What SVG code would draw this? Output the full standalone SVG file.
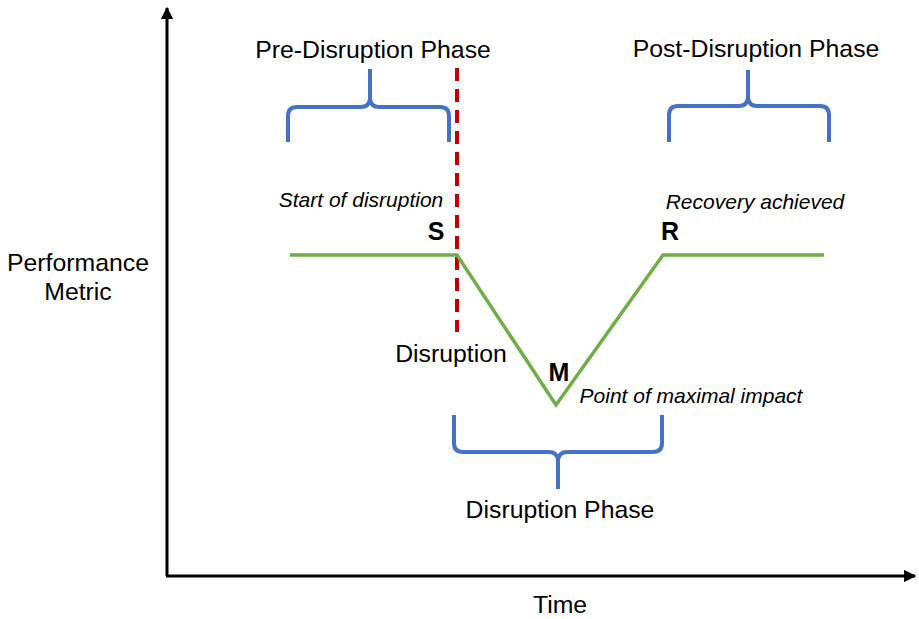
<svg xmlns="http://www.w3.org/2000/svg" width="919" height="619" viewBox="0 0 919 619">
  <style>
    .lbl { font-family: "Liberation Sans", Arial, sans-serif; font-size: 24.8px; fill: #000; text-anchor: middle; }
    .note { font-family: "Liberation Sans", Arial, sans-serif; font-size: 21px; font-style: italic; fill: #000; text-anchor: middle; }
    .pt { font-family: "Liberation Sans", Arial, sans-serif; font-size: 25px; font-weight: bold; fill: #000; text-anchor: middle; }
    .brace { fill: none; stroke: #4472C4; stroke-width: 4; stroke-linecap: butt; }
    .axis { fill: none; stroke: #000; stroke-width: 3; }
  </style>
  <defs>
    <marker id="arrow" viewBox="0 0 10 10" refX="9" refY="5" markerWidth="4.2" markerHeight="4.2" orient="auto" markerUnits="strokeWidth">
      <path d="M0,0 L10,5 L0,10 Z" fill="#000"/>
    </marker>
  </defs>
  <rect width="919" height="619" fill="#fff"/>

  <!-- axes -->
  <g id="axes">
    <path class="axis" d="M167,576 V8" marker-end="url(#arrow)"/>
    <path class="axis" d="M166,576 H915" marker-end="url(#arrow)"/>
    <text class="lbl" x="78" y="271">Performance</text>
    <text class="lbl" x="78" y="300">Metric</text>
    <text class="lbl" x="560" y="613">Time</text>
  </g>

  <!-- connectors: performance curve and disruption marker -->
  <g id="connectors">
    <line id="disruption-line" x1="457" y1="68" x2="457" y2="332" stroke="#C00000" stroke-width="4" stroke-dasharray="13,8"/>
    <polyline id="performance" points="290,255 457,255 556,405 663,255 824,255" fill="none" stroke="#70AD47" stroke-width="3.5" stroke-linejoin="miter"/>
  </g>

  <g id="pre-phase">
    <path class="brace" d="M288,142 V116 Q288,107 297,107 H361 Q369,107 370,99 V69 M370,99 Q371,107 379,107 H440 Q449,107 449,116 V142"/>
    <text class="lbl" x="373" y="58">Pre-Disruption Phase</text>
  </g>

  <g id="post-phase">
    <path class="brace" d="M669,142 V115 Q669,106 678,106 H739 Q747,106 748,98 V70 M748,98 Q749,106 757,106 H820 Q829,106 829,115 V142"/>
    <text class="lbl" x="756" y="57">Post-Disruption Phase</text>
  </g>

  <g id="disruption-phase">
    <path class="brace" d="M454,415 V443 Q454,452 463,452 H549 Q557,452 558,460 V489 M558,460 Q559,452 567,452 H653 Q662,452 662,443 V415"/>
    <text class="lbl" x="560" y="518">Disruption Phase</text>
  </g>

  <g id="point-s">
    <text class="note" x="361" y="207">Start of disruption</text>
    <text class="pt" x="436" y="240">S</text>
  </g>

  <g id="point-r">
    <text class="note" x="755" y="209">Recovery achieved</text>
    <text class="pt" x="670" y="240">R</text>
  </g>

  <g id="point-m">
    <text class="pt" x="559" y="381">M</text>
    <text class="note" x="691" y="403">Point of maximal impact</text>
  </g>

  <g id="disruption-label">
    <text class="lbl" x="451" y="362">Disruption</text>
  </g>
</svg>
